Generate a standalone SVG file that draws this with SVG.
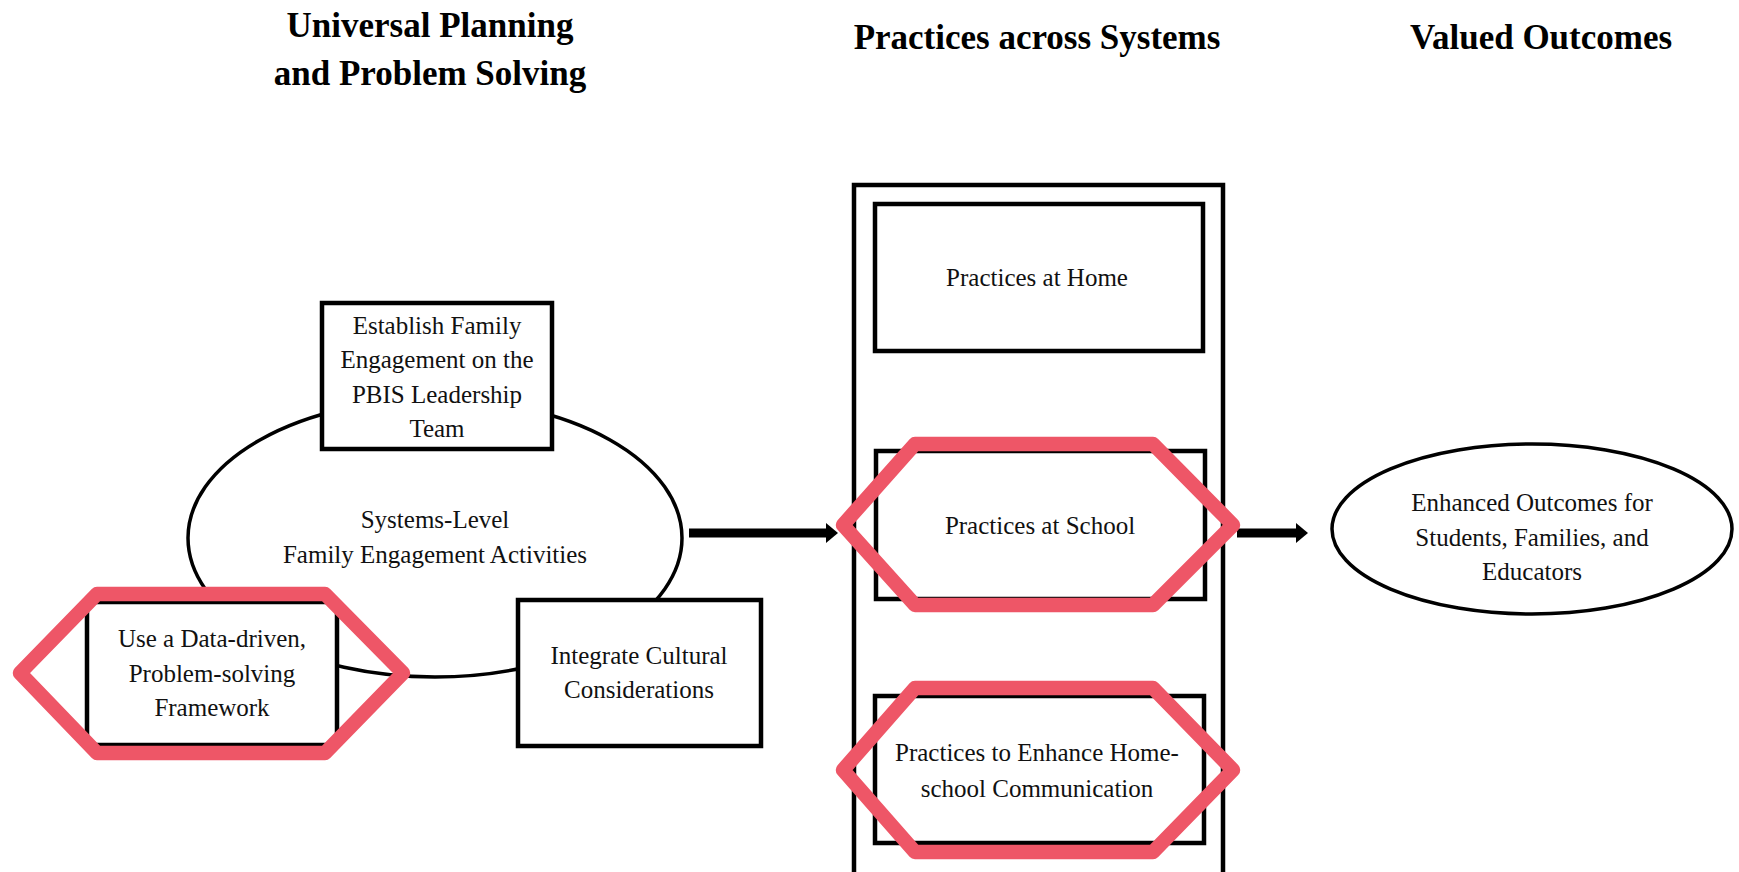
<svg xmlns="http://www.w3.org/2000/svg" width="1739" height="872" viewBox="0 0 1739 872">
<style>
.title{font-family:"Liberation Serif","Times New Roman",serif;font-weight:bold;font-size:35px;fill:#000;text-anchor:middle}
.t{font-family:"Liberation Serif","Times New Roman",serif;font-size:25px;fill:#111;text-anchor:middle}
.box{fill:#fff;stroke:#000;stroke-width:4.5}
.ell{fill:#fff;stroke:#000;stroke-width:3.5}
.arrow{stroke:#000;stroke-width:9;fill:none}
.hl{fill:none;stroke:#EE5667;stroke-width:14.5;stroke-linejoin:round}
</style>
<defs>
<marker id="ah" markerUnits="userSpaceOnUse" viewBox="0 0 12 20" refX="0" refY="10" markerWidth="12" markerHeight="20" orient="auto">
<path d="M0,0 L12,10 L0,20 Z" fill="#000"/>
</marker>
</defs>
<rect width="1739" height="872" fill="#fff"/>
<g id="titles">
<text class="title" x="430" y="37">Universal Planning</text>
<text class="title" x="430" y="85">and Problem Solving</text>
<text class="title" x="1037" y="49">Practices across Systems</text>
<text class="title" x="1541" y="49">Valued Outcomes</text>
</g>
<g id="systems-level">
<ellipse class="ell" cx="435" cy="538" rx="247" ry="139"/>
<text class="t" x="435" y="528">Systems-Level</text>
<text class="t" x="435" y="563">Family Engagement Activities</text>
</g>
<g id="establish">
<rect class="box" x="322" y="303" width="230" height="146"/>
<text class="t" x="437" y="334">Establish Family</text>
<text class="t" x="437" y="368">Engagement on the</text>
<text class="t" x="437" y="403">PBIS Leadership</text>
<text class="t" x="437" y="437">Team</text>
</g>
<g id="data-driven">
<rect class="box" x="87" y="602" width="250" height="143"/>
<text class="t" x="212" y="647">Use a Data-driven,</text>
<text class="t" x="212" y="682">Problem-solving</text>
<text class="t" x="212" y="716">Framework</text>
</g>
<g id="cultural">
<rect class="box" x="518" y="600" width="243" height="146"/>
<text class="t" x="639" y="664">Integrate Cultural</text>
<text class="t" x="639" y="698">Considerations</text>
</g>
<g id="practices-container">
<rect class="box" x="854" y="185" width="369" height="700" fill="none"/>
</g>
<g id="home">
<rect class="box" x="875" y="204" width="328" height="147"/>
<text class="t" x="1037" y="286">Practices at Home</text>
</g>
<g id="school">
<rect class="box" x="876" y="451" width="329" height="148"/>
<text class="t" x="1040" y="534">Practices at School</text>
</g>
<g id="home-school">
<rect class="box" x="875" y="696" width="329" height="147"/>
<text class="t" x="1037" y="761">Practices to Enhance Home-</text>
<text class="t" x="1037" y="797">school Communication</text>
</g>
<g id="outcomes">
<ellipse class="ell" cx="1532" cy="529" rx="200" ry="85"/>
<text class="t" x="1532" y="511">Enhanced Outcomes for</text>
<text class="t" x="1532" y="546">Students, Families, and</text>
<text class="t" x="1532" y="580">Educators</text>
</g>
<g id="connectors">
<line class="arrow" x1="689" y1="533" x2="826" y2="533" marker-end="url(#ah)"/>
<line class="arrow" x1="1237" y1="533" x2="1296" y2="533" marker-end="url(#ah)"/>
</g>
<g id="highlights">
<polygon class="hl" points="20,673 97,594 325,594 403,673 325,753 97,753"/>
<polygon class="hl" points="843,525 915,444 1153,444 1233,525 1153,605 915,605"/>
<polygon class="hl" points="843,770 915,688 1153,688 1233,770 1153,852 915,852"/>
</g>
</svg>
